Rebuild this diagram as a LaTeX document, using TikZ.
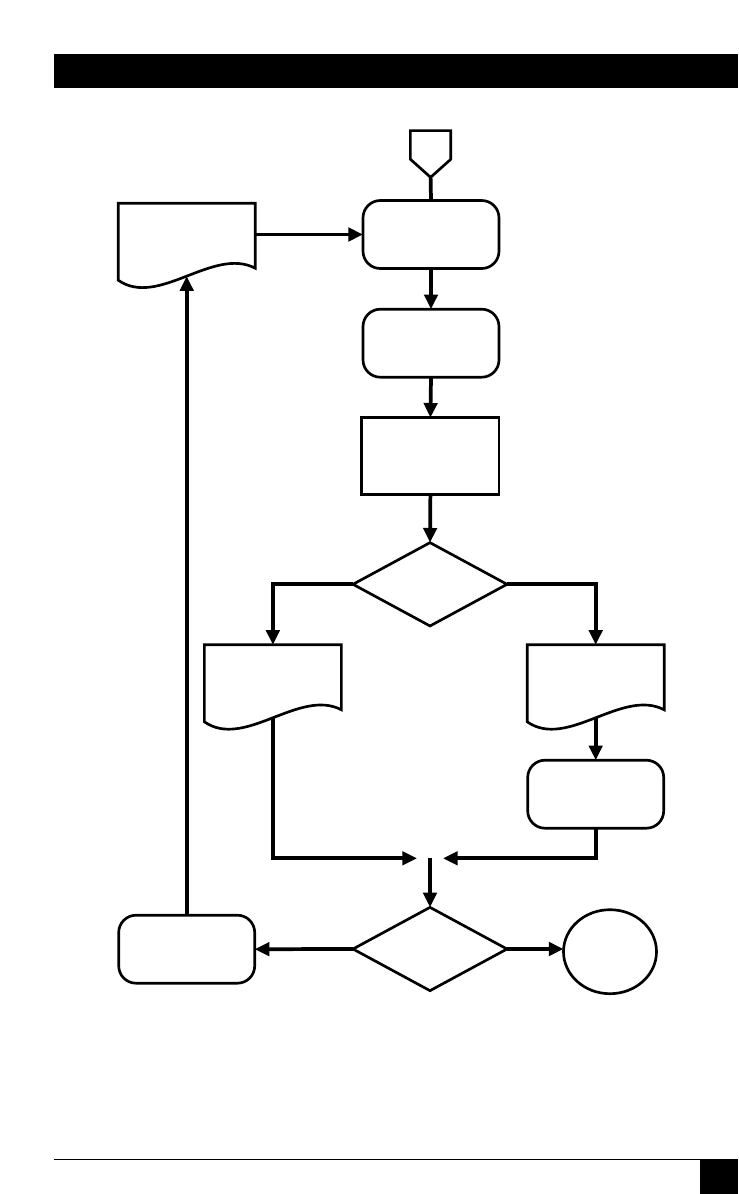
\documentclass[tikz,border=0pt]{standalone}
\usepackage{tikz}
\usetikzlibrary{arrows.meta,calc,shapes.geometric}
\definecolor{inkblack}{RGB}{0,0,0}
\tikzset{
  base/.style={inner sep=0pt, outer sep=0pt, draw=inkblack, fill=white, line width=2pt},
  rbox/.style={base, rectangle, rounded corners=13pt, minimum width=102pt, minimum height=51pt},
  sqbox/.style={base, rectangle, minimum width=103pt, minimum height=57.5pt},
  docu/.style={base, rectangle, draw=none, fill=none, minimum width=102.75pt, minimum height=57.75pt},
  dec/.style={base, diamond, minimum width=115.5pt, minimum height=62.5pt},
  term/.style={base, ellipse, minimum width=69.75pt, minimum height=63pt},
  offpg/.style={base, rectangle, draw=none, fill=none, minimum width=30.3pt, minimum height=35pt},
  shp/.style={line width=2pt, draw=inkblack, line join=miter},
  arr/.style={-{Triangle[length=11pt,width=10pt]}, line width=2.8pt, draw=inkblack},
  ln/.style={line width=2.8pt, draw=inkblack},
}
\begin{document}
\begin{tikzpicture}[x=0.75pt,y=-0.75pt]
  \useasboundingbox (0,0) rectangle (738,1194);
  % page header and footer
  \fill[inkblack] (54,54) rectangle (738,88);
  \draw[inkblack,line width=0.8pt] (54,1159.3) -- (700,1159.3);
  \fill[inkblack] (700,1159.3) rectangle (738,1194);
  % main column
  \node[offpg] (entry) at (430.6,154) {};
  \node[rbox] (st1) at (431,234.5) {};
  \node[rbox] (st2) at (431,343.2) {};
  \node[sqbox] (op) at (430.4,456) {};
  \node[dec] (q1) at (430,584.3) {};
  \node[docu] (outa) at (272.9,683.3) {};
  \node[docu] (outb) at (595.7,683.3) {};
  \node[rbox] (fix) at (595.7,794.2) {};
  \coordinate (mrg) at (430,858.3);
  \coordinate (mrgl) at (417,858.3);
  \coordinate (mrgr) at (443,858.3);
  \node[dec] (q2) at (430,949) {};
  \node[rbox] (redo) at (186.7,949.2) {};
  \node[term] (stop) at (610,951.7) {};
  \node[docu] (log) at (186.7,241.7) {};
  % outlines
  \draw[shp] (entry.north west) -- (entry.north east) -- ($(entry.north east)+(0,28.6)$) -- (entry.south) -- ($(entry.north west)+(0,28.6)$) -- cycle;
  \foreach \d in {outa,outb,log}{
    \draw[shp] (\d.south west) .. controls ($(\d.south west)+(40,28)$) and ($(\d.south west)+(95,-34)$) .. ($(\d.south east)+(0,-12)$) -- (\d.north east) -- (\d.north west) -- cycle;}
  % connectors
  \draw[ln] (entry.south) -- (st1.north);
  \foreach \a/\b in {st1/st2,st2/op,op/q1}{\draw[arr] (\a.south) -- (\b.north);}
  \draw[arr] (q1.west) -| (outa.north);
  \draw[arr] (q1.east) -| (outb.north);
  \draw[arr] ($(outb.south)+(0,-4)$) -- (fix.north);
  \draw[arr] ($(outa.south)+(0,-4)$) |- (mrgl);
  \draw[arr] (fix.south) |- (mrgr);
  \draw[arr] (mrg) -- (q2.north);
  \draw[arr] (q2.west) -- (redo.east);
  \draw[arr] (q2.east) -- (q2.east -| stop.west);
  \draw[arr] (redo.north) -- ($(log.south)+(0,-4)$);
  \draw[arr] (log.east |- st1.west) -- (st1.west);
\end{tikzpicture}
\end{document}
